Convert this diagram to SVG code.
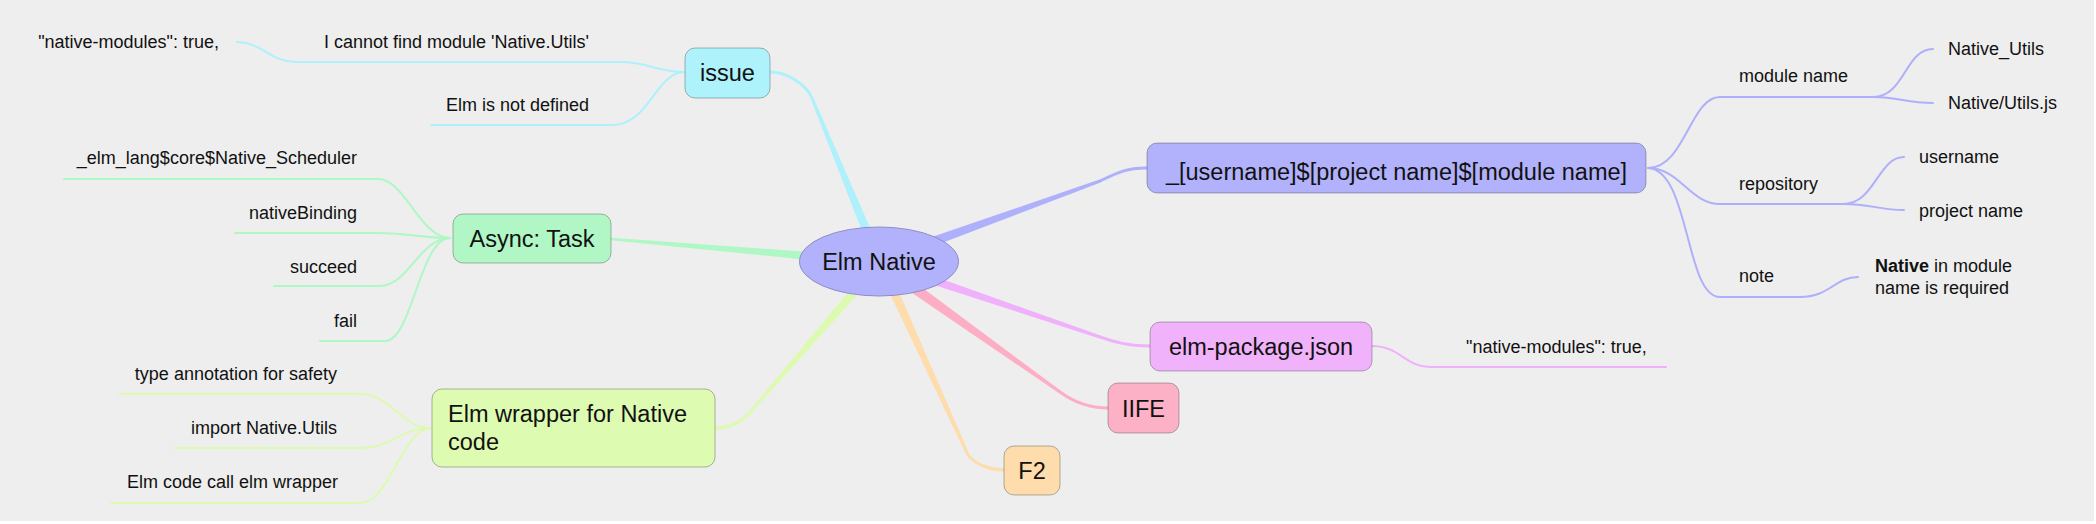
<svg xmlns="http://www.w3.org/2000/svg" width="2096" height="524" viewBox="0 0 2096 524">
<style>
text{font-family:"Liberation Sans",Arial,Helvetica,sans-serif;fill:#111}
.main{font-size:23.5px}
.sub{font-size:18px}
.end{text-anchor:end}
.mid{text-anchor:middle}
.box{stroke:rgba(0,0,0,0.28);stroke-width:1}
.thin{fill:none;stroke-width:2;stroke-linecap:round}
.bend{fill:none;stroke-width:3;stroke-linecap:round}
.cyan{stroke:#aef0fb}.cyanf{fill:#aef0fb}
.green{stroke:#aff7c4}.greenf{fill:#aff7c4}
.lime{stroke:#dcfbb0}.limef{fill:#dcfbb0}
.purple{stroke:#aeb0fb}.purplef{fill:#aeb0fb}
.mag{stroke:#f0b0fb}.magf{fill:#f0b0fb}
.pink{stroke:#fdaec4}.pinkf{fill:#fdaec4}
.peach{stroke:#fedcab}.peachf{fill:#fedcab}
</style>
<rect x="0" y="0" width="2096" height="524" fill="#ffffff"/>
<rect x="0" y="0" width="2094" height="521" fill="#eeeeee"/>
<g id="connectors">
  <!-- main branches -->
  <path class="bend cyan" d="M771,72 C786,72 806,84 812,98"/>
  <polygon class="cyanf" points="810.6,98.6 874.4,262.9 883.6,259.1 813.4,97.4"/>
  <polygon class="greenf" points="611.1,237.8 879.4,257.0 878.6,267.0 610.9,240.2"/>
  <path class="bend lime" d="M716,428 C730,428 742,422 752,410"/>
  <polygon class="limef" points="750.9,409.0 876.2,258.7 883.8,265.3 753.1,411.0"/>
  <path class="bend purple" d="M1146,168 C1125,168 1115,174 1100,181"/>
  <polygon class="purplef" points="1099.5,179.6 877.1,255.8 880.9,266.2 1100.5,182.4"/>
  <path class="bend mag" d="M1150,346 C1128,346 1115,342 1100,337"/>
  <polygon class="magf" points="1100.5,335.6 880.6,257.3 877.4,266.7 1099.5,338.4"/>
  <path class="bend pink" d="M1108,408 C1090,408 1075,403 1060,392"/>
  <polygon class="pinkf" points="1060.9,390.8 882.5,258.1 875.5,267.9 1059.1,393.2"/>
  <path class="bend peach" d="M1004,470 C992,470 975,465 968,455"/>
  <polygon class="peachf" points="969.4,454.4 884.6,258.9 875.4,263.1 966.6,455.6"/>
  <!-- issue children -->
  <path class="thin cyan" d="M685,72 C655,72 650,62 620,62 L296,62 C270,62 262,42 237,42"/>
  <path class="thin cyan" d="M685,72 C655,72 650,125 612,125 L431,125"/>
  <!-- async children -->
  <path class="thin green" d="M64,179 L378,179 C405,179 420,238 450,238"/>
  <path class="thin green" d="M235,233 L378,233 C408,233 420,238 450,238"/>
  <path class="thin green" d="M274,286 L380,286 C408,286 420,238 450,238"/>
  <path class="thin green" d="M320,341 L385,341 C412,341 420,238 450,238"/>
  <!-- wrapper children -->
  <path class="thin lime" d="M119,394 L360,394 C392,394 400,428 431,428"/>
  <path class="thin lime" d="M174,448 L360,448 C392,448 400,428 431,428"/>
  <path class="thin lime" d="M111,503 L360,503 C390,503 402,428 431,428"/>
  <!-- purple children -->
  <path class="thin purple" d="M1648,168 C1685,168 1690,97 1720,97 L1873,97"/>
  <path class="thin purple" d="M1873,97 C1905,97 1905,49 1933,49"/>
  <path class="thin purple" d="M1873,97 C1900,97 1905,103 1933,103"/>
  <path class="thin purple" d="M1648,168 C1680,168 1690,204 1720,204 L1843,204"/>
  <path class="thin purple" d="M1843,204 C1875,204 1878,157 1904,157"/>
  <path class="thin purple" d="M1843,204 C1870,204 1880,210 1904,210"/>
  <path class="thin purple" d="M1648,168 C1690,170 1685,297 1720,297 L1800,297"/>
  <path class="thin purple" d="M1800,297 C1830,297 1835,277 1858,277"/>
  <!-- elm-package child -->
  <path class="thin mag" d="M1372,346 C1400,346 1405,367 1430,367 L1666,367"/>
</g>
<g id="root">
  <ellipse cx="879" cy="261.5" rx="79.5" ry="34.5" fill="#b1b2fb" stroke="#8c8ec4" stroke-width="1"/>
  <text class="main mid" x="879" y="269.5">Elm Native</text>
</g>
<g id="issue">
  <rect class="box" x="685" y="48" width="85" height="50" rx="10" fill="#aef2fb"/>
  <text class="main mid" x="727.5" y="81">issue</text>
</g>
<g id="issue-cannot-find">
  <text class="sub end" x="589" y="48">I cannot find module 'Native.Utils'</text>
</g>
<g id="issue-native-modules">
  <text class="sub end" x="219" y="48">"native-modules": true,</text>
</g>
<g id="issue-elm-undefined">
  <text class="sub end" x="589" y="110.5">Elm is not defined</text>
</g>
<g id="async">
  <rect class="box" x="453" y="214" width="158" height="49" rx="10" fill="#b0f7c5"/>
  <text class="main mid" x="532" y="247">Async: Task</text>
</g>
<g id="async-scheduler"><text class="sub end" x="357" y="164">_elm_lang$core$Native_Scheduler</text></g>
<g id="async-binding"><text class="sub end" x="357" y="219">nativeBinding</text></g>
<g id="async-succeed"><text class="sub end" x="357" y="272.5">succeed</text></g>
<g id="async-fail"><text class="sub end" x="357" y="326.5">fail</text></g>
<g id="wrapper">
  <rect class="box" x="432" y="389" width="283" height="78" rx="10" fill="#ddfbb1"/>
  <text class="main" x="448" y="422">Elm wrapper for Native</text>
  <text class="main" x="448" y="450">code</text>
</g>
<g id="wrapper-type"><text class="sub end" x="337" y="380">type annotation for safety</text></g>
<g id="wrapper-import"><text class="sub end" x="337" y="434">import Native.Utils</text></g>
<g id="wrapper-call"><text class="sub end" x="338" y="488">Elm code call elm wrapper</text></g>
<g id="naming">
  <rect class="box" x="1147" y="143" width="499" height="50" rx="10" fill="#b1b2fb"/>
  <text class="main mid" x="1396.5" y="180">_[username]$[project name]$[module name]</text>
</g>
<g id="module-name"><text class="sub" x="1739" y="82">module name</text></g>
<g id="native-utils"><text class="sub" x="1948" y="55">Native_Utils</text></g>
<g id="native-utils-js"><text class="sub" x="1948" y="109">Native/Utils.js</text></g>
<g id="repository"><text class="sub" x="1739" y="190">repository</text></g>
<g id="username"><text class="sub" x="1919" y="162.5">username</text></g>
<g id="project-name"><text class="sub" x="1919" y="217">project name</text></g>
<g id="note"><text class="sub" x="1739" y="282">note</text></g>
<g id="note-text">
  <text class="sub" x="1875" y="272"><tspan font-weight="bold">Native</tspan> in module</text>
  <text class="sub" x="1875" y="293.5">name is required</text>
</g>
<g id="elm-package">
  <rect class="box" x="1150" y="322" width="222" height="49" rx="10" fill="#f0b3fb"/>
  <text class="main mid" x="1261" y="355">elm-package.json</text>
</g>
<g id="elm-package-native"><text class="sub" x="1466" y="353">"native-modules": true,</text></g>
<g id="iife">
  <rect class="box" x="1108" y="383" width="71" height="50" rx="10" fill="#fdb1c6"/>
  <text class="main mid" x="1143.5" y="416.5">IIFE</text>
</g>
<g id="f2">
  <rect class="box" x="1004" y="446" width="56" height="49" rx="10" fill="#fedcab"/>
  <text class="main mid" x="1032" y="478.5">F2</text>
</g>
</svg>
